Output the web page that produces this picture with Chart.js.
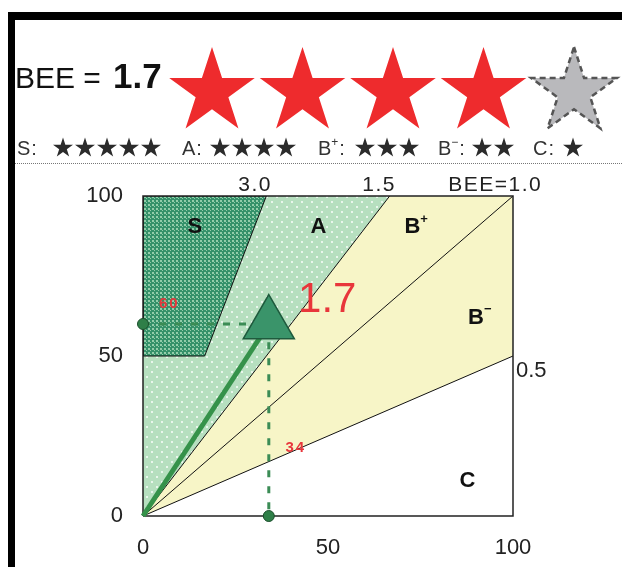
<!DOCTYPE html>
<html>
<head>
<meta charset="utf-8">
<script src="https://cdn.jsdelivr.net/npm/chart.js@4.4.1/dist/chart.umd.min.js"></script>
<style>
  html, body { margin: 0; padding: 0; background: #fff; }
  #wrap { position: relative; width: 622px; height: 567px; }
</style>
</head>
<body>
<div id="wrap"><canvas id="chart-bee" width="622" height="567"></canvas></div>
<script>
// ranks and the stars each one gets
const ranks = ['S', 'A', 'B+', 'B-', 'C'];
const rankStars = [5, 4, 3, 2, 1];

// BEE boundary lines (slope = Q / LR) and their labels
const beeLines = [3.0, 1.5, 1.0, 0.5];
const beeLineLabels = ['3.0', '1.5', 'BEE=1.0', '0.5'];
const sMinQ = 50; // S needs Q >= 50 too

// result of the building
const beeValue = 1.7;
const lrValue = 34;
const qValue = 60;
const starsEarned = 4;
const starsMax = 5;

const axisTicks = [0, 50, 100];
const axisMax = axisTicks[axisTicks.length - 1];

// end of a BEE line inside the 0..100 box
function lineEnd(b) {
    return b >= 1 ? { x: axisMax / b, y: axisMax } : { x: axisMax, y: axisMax * b };
}

function makePattern(bg, dot, size, dots) {
    const c = document.createElement('canvas');
    c.width = size;
    c.height = size;
    const g = c.getContext('2d');
    g.fillStyle = bg;
    g.fillRect(0, 0, size, size);
    g.fillStyle = dot;
    dots.forEach(d => g.fillRect(d[0], d[1], d[2], d[2]));
    return g.createPattern(c, 'repeat');
}

const aPattern = makePattern('#b6dfbf', '#e9f6ec', 10, [[1, 1, 2], [6, 6, 2]]);
const sPattern = makePattern('#35916a', '#93cdaa', 4, [[0, 0, 2], [2, 2, 1]]);

const origin = { x: 0, y: 0 };
const end30 = lineEnd(beeLines[0]);
const end15 = lineEnd(beeLines[1]);
const end05 = lineEnd(beeLines[3]);

const sRegion = [
    { x: 0, y: sMinQ },
    { x: sMinQ / beeLines[0], y: sMinQ },
    end30,
    { x: 0, y: axisMax },
    { x: 0, y: sMinQ }
];
const aRegion = [origin, end15, { x: 0, y: axisMax }, origin];
const bRegion = [origin, end05, { x: axisMax, y: axisMax }, end15, origin];
const frame = [origin, { x: axisMax, y: 0 }, { x: axisMax, y: axisMax }, { x: 0, y: axisMax }, origin];

const plain = { showLine: true, pointRadius: 0, pointHoverRadius: 0, tension: 0 };

const datasets = [
    {
        label: 'LR / Q',
        data: [{ x: 0, y: qValue }, { x: lrValue, y: 0 }],
        showLine: false,
        pointRadius: 5.5,
        backgroundColor: '#2f7f48',
        borderColor: '#1b4f2c',
        borderWidth: 1,
        clip: false,
        order: 0
    },
    {
        label: 'BEE',
        data: [{ x: lrValue, y: qValue }],
        showLine: false,
        pointStyle: 'triangle',
        pointRadius: 29.5,
        backgroundColor: '#3a946a',
        borderColor: '#1e5a3d',
        borderWidth: 1.5,
        clip: false,
        order: 1
    },
    {
        label: 'BEE line',
        data: [origin, { x: lrValue, y: qValue }],
        ...plain,
        borderColor: '#35924a',
        borderWidth: 5,
        clip: false,
        order: 2
    },
    {
        label: 'guides',
        data: [{ x: 0, y: qValue }, { x: lrValue, y: qValue }, { x: lrValue, y: 0 }],
        ...plain,
        borderColor: '#3b8c55',
        borderWidth: 3,
        borderDash: [7, 9],
        order: 3
    },
    {
        label: 'frame',
        data: frame,
        ...plain,
        borderColor: '#222',
        borderWidth: 1.5,
        clip: false,
        order: 4
    }
];

beeLines.slice(1).forEach(b => {
    datasets.push({
        label: 'BEE=' + b,
        data: [origin, lineEnd(b)],
        ...plain,
        borderColor: '#111',
        borderWidth: 1,
        order: 5
    });
});

datasets.push(
    { label: 'S', data: sRegion, ...plain, fill: 'shape', backgroundColor: sPattern, borderColor: '#111', borderWidth: 1, order: 6 },
    { label: 'A', data: aRegion, ...plain, fill: 'shape', backgroundColor: aPattern, borderWidth: 0, order: 7 },
    { label: 'B', data: bRegion, ...plain, fill: 'shape', backgroundColor: '#f7f5c7', borderWidth: 0, order: 8 }
);

function starPath(ctx, cx, cy, R) {
    const r = R * 0.382;
    ctx.beginPath();
    for (let i = 0; i < 10; i++) {
        const rad = i % 2 ? r : R;
        const a = -Math.PI / 2 + i * Math.PI / 5;
        ctx.lineTo(cx + rad * Math.cos(a), cy + rad * Math.sin(a));
    }
    ctx.closePath();
}

// draws "B" + small superscript, returns end x
function rankText(ctx, rank, x, y, font, supFont, supRise) {
    const base = rank[0];
    const sup = rank.slice(1).replace('-', '\u2212');
    ctx.font = font;
    ctx.fillText(base, x, y);
    let cx = x + ctx.measureText(base).width;
    if (sup) {
        ctx.font = supFont;
        ctx.fillText(sup, cx, y - supRise);
        cx += ctx.measureText(sup).width;
    }
    return cx;
}

const decor = {
    id: 'decor',
    afterDatasetsDraw(chart) {
        const ctx = chart.ctx;
        const xs = chart.scales.x;
        const ys = chart.scales.y;
        const px = v => xs.getPixelForValue(v);
        const py = v => ys.getPixelForValue(v);
        ctx.save();

        // rank names inside the regions
        const rankPos = [[14, 90.3], [47.4, 90.3], [72.8, 90.3], [90, 62], [87.7, 10.9]];
        ctx.fillStyle = '#111';
        ctx.textBaseline = 'middle';
        ranks.forEach((rk, i) => {
            ctx.font = 'bold 22px "Liberation Sans"';
            const w = ctx.measureText(rk[0]).width;
            ctx.textAlign = 'left';
            rankText(ctx, rk, px(rankPos[i][0]) - w / 2, py(rankPos[i][1]),
                'bold 22px "Liberation Sans"', 'bold 13px "Liberation Sans"', 8);
        });

        // line labels on top / right edge
        ctx.font = '21px "Liberation Sans"';
        ctx.fillStyle = '#222';
        ctx.letterSpacing = '1.5px';
        ctx.textAlign = 'center';
        ctx.textBaseline = 'alphabetic';
        const topPos = [30.3, 63.8, 95.2];
        beeLineLabels.slice(0, 3).forEach((t, i) => {
            ctx.fillText(t, px(topPos[i]), chart.chartArea.top - 5);
        });
        ctx.letterSpacing = '0px';
        ctx.font = '22px "Liberation Sans"';
        ctx.textAlign = 'left';
        ctx.textBaseline = 'middle';
        ctx.fillText(beeLineLabels[3], px(axisMax) + 3, py(45.2));

        // red values
        ctx.fillStyle = '#e8363b';
        ctx.textAlign = 'center';
        ctx.font = 'bold 15px "Liberation Sans"';
        ctx.letterSpacing = '2px';
        ctx.fillText(String(qValue), px(7.1), py(66.2));
        ctx.fillText(String(lrValue), px(41.3), py(21.2));
        ctx.letterSpacing = '0px';
        ctx.font = '42px "Liberation Sans"';
        ctx.fillText(beeValue.toFixed(1), px(49.8), py(67.4));
        ctx.restore();
    },
    afterDraw(chart) {
        const ctx = chart.ctx;
        ctx.save();
        // black frame of the sheet
        ctx.fillStyle = '#000';
        ctx.fillRect(8, 12, 614, 8);
        ctx.fillRect(8, 12, 7, 555);

        // BEE = 1.7
        ctx.fillStyle = '#111';
        ctx.textBaseline = 'alphabetic';
        ctx.textAlign = 'left';
        ctx.font = '30px "Liberation Sans"';
        ctx.fillText('BEE =', 15, 88);
        ctx.font = 'bold 35px "Liberation Sans"';
        ctx.fillText(beeValue.toFixed(1), 113, 88);

        // big stars
        for (let i = 0; i < starsMax; i++) {
            starPath(ctx, 212 + i * 90.5, 92, 45);
            if (i < starsEarned) {
                ctx.fillStyle = '#ee2b2d';
                ctx.fill();
            } else {
                ctx.fillStyle = '#b9b9bc';
                ctx.fill();
                ctx.setLineDash([6, 4]);
                ctx.lineWidth = 2.5;
                ctx.strokeStyle = '#555';
                ctx.stroke();
                ctx.setLineDash([]);
            }
        }

        // rank legend row
        const labelX = [17, 182, 318, 438, 533];
        const starX = [53, 210, 355, 472, 563];
        ctx.textBaseline = 'alphabetic';
        ranks.forEach((rk, i) => {
            ctx.fillStyle = '#333';
            const ex = rankText(ctx, rk, labelX[i], 155, '20px "Liberation Sans"', '12px "Liberation Sans"', 9);
            ctx.font = '20px "Liberation Sans"';
            ctx.fillText(':', ex + 1, 155);
            ctx.fillStyle = '#2b2b2b';
            for (let k = 0; k < rankStars[i]; k++) {
                starPath(ctx, starX[i] + 10 + k * 22, 148, 10.5);
                ctx.fill();
            }
        });

        // dotted separator
        ctx.strokeStyle = '#777';
        ctx.lineWidth = 1;
        ctx.setLineDash([1, 1]);
        ctx.beginPath();
        ctx.moveTo(15, 163.5);
        ctx.lineTo(622, 163.5);
        ctx.stroke();
        ctx.restore();
    }
};

const tickFont = { family: 'Liberation Sans', size: 22 };

new Chart(document.getElementById('chart-bee'), {
    type: 'scatter',
    data: { datasets: datasets },
    options: {
        responsive: false,
        animation: false,
        events: [],
        devicePixelRatio: 1,
        layout: { padding: { top: 196, right: 109, bottom: 0, left: 0 } },
        plugins: { legend: { display: false }, tooltip: { enabled: false } },
        scales: {
            x: {
                type: 'linear',
                min: 0,
                max: axisMax,
                grid: { display: false, drawTicks: false },
                border: { display: false },
                ticks: { stepSize: 50, padding: 19, color: '#222', font: tickFont, maxRotation: 0 },
                afterFit(s) { s.height = 51; s.paddingLeft = 0; s.paddingRight = 0; }
            },
            y: {
                type: 'linear',
                min: 0,
                max: axisMax,
                grid: { display: false, drawTicks: false },
                border: { display: false },
                ticks: { stepSize: 50, padding: 20, color: '#222', font: tickFont },
                afterFit(s) { s.width = 143; s.paddingTop = 0; s.paddingBottom = 0; }
            }
        }
    },
    plugins: [decor]
});
</script>
</body>
</html>
